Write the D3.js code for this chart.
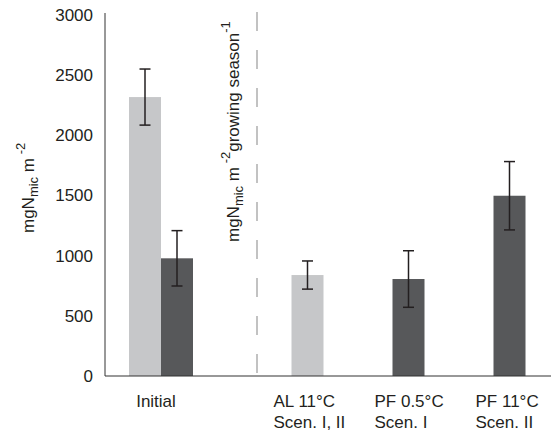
<!DOCTYPE html>
<html>
<head>
<meta charset="utf-8">
<script src="https://cdn.jsdelivr.net/npm/d3@7"></script>
<style>
  html, body { margin: 0; padding: 0; background: #fff; }
  svg { display: block; font-family: "Liberation Sans", Arial, sans-serif; }
</style>
</head>
<body>
<svg id="chart" width="551" height="431"></svg>
<script>
// Microbial N pools: initial stock and accumulation per growing season
const initialCategory = "Initial";
const scenarioCategories = ["AL11", "PF05", "PF11"];
const scenarioLabels = [["AL 11°C", "Scen. I, II"], ["PF 0.5°C", "Scen. I"], ["PF 11°C", "Scen. II"]];

// Initial stock: active layer (light) and permafrost (dark)
const initialLight = 2318, initialLightErr = 233;
const initialDark = 978, initialDarkErr = 230;

// Scenario values (one series per scenario)
const scenarioSeries = ["light", "dark", "dark"];
const scenarioValues = [839, 806, 1498];
const scenarioErrors = [117, 235, 284];

const yTicks = [0, 500, 1000, 1500, 2000, 2500, 3000];

const colors = { light: "#c6c7c9", dark: "#57585a" };
const ink = "#231f20";
const fs = 17;

const svg = d3.select("#chart");
const axisX = 105, baseY = 376, dividerX = 257;
const barW = 32;

const y = d3.scaleLinear().domain([0, 3000]).range([baseY, 15]);
const xLeft = d3.scaleBand().domain([initialCategory]).range([axisX, 217]);
const xRight = d3.scaleBand().domain(scenarioCategories).range([dividerX, 560]);

const leftCenter = xLeft(initialCategory) + xLeft.bandwidth() / 2;
const xInner = d3.scaleBand().domain(["light", "dark"]).range([leftCenter - barW, leftCenter + barW]);

// collect bars
const bars = [
  { x: xInner("light"), w: xInner.bandwidth(), v: initialLight, e: initialLightErr, s: "light" },
  { x: xInner("dark"), w: xInner.bandwidth(), v: initialDark, e: initialDarkErr, s: "dark" }
];
scenarioCategories.forEach((c, i) => {
  const cx = xRight(c) + xRight.bandwidth() / 2;
  bars.push({ x: cx - barW / 2, w: barW, v: scenarioValues[i], e: scenarioErrors[i], s: scenarioSeries[i] });
});

svg.append("g").selectAll("rect").data(bars).join("rect")
  .attr("x", d => d.x).attr("width", d => d.w)
  .attr("y", d => y(d.v)).attr("height", d => y(0) - y(d.v))
  .attr("fill", d => colors[d.s]);

// error bars
const eb = svg.append("g").attr("stroke", ink).attr("stroke-width", 1.5);
bars.forEach(d => {
  const cx = d.x + d.w / 2;
  eb.append("line").attr("x1", cx).attr("x2", cx).attr("y1", y(d.v + d.e)).attr("y2", y(d.v - d.e));
  [d.v + d.e, d.v - d.e].forEach(v => {
    eb.append("line").attr("x1", cx - 5.5).attr("x2", cx + 5.5).attr("y1", y(v)).attr("y2", y(v));
  });
});

// divider between initial stock and scenarios
svg.append("line")
  .attr("x1", dividerX).attr("x2", dividerX).attr("y1", 12).attr("y2", baseY)
  .attr("stroke", "#9a9a9a").attr("stroke-width", 1.2).attr("stroke-dasharray", "19 19");

// y axis
const yAxis = d3.axisLeft(y).tickValues(yTicks).tickSize(0).tickPadding(12).tickFormat(d3.format("d"));
const gy = svg.append("g").attr("transform", `translate(${axisX},0)`).call(yAxis);
gy.select(".domain").remove();
gy.selectAll("text").attr("font-size", fs).attr("fill", ink).attr("font-family", "Liberation Sans, Arial, sans-serif");

svg.append("line").attr("x1", axisX).attr("x2", axisX).attr("y1", 13).attr("y2", baseY)
  .attr("stroke", "#333").attr("stroke-width", 1);
svg.append("line").attr("x1", axisX).attr("x2", 551).attr("y1", baseY).attr("y2", baseY)
  .attr("stroke", "#333").attr("stroke-width", 1.2);

// category labels
svg.append("text").attr("x", leftCenter - 5).attr("y", 406.5).attr("text-anchor", "middle")
  .attr("font-size", fs).attr("fill", ink).text("Initial");
scenarioCategories.forEach((c, i) => {
  const cx = xRight(c) + xRight.bandwidth() / 2;
  const t = svg.append("text").attr("font-size", fs).attr("fill", ink);
  scenarioLabels[i].forEach((line, j) => {
    t.append("tspan").attr("x", cx - 34).attr("y", 406.5 + j * 21.5).text(line);
  });
});

// axis titles with sub/superscripts
function unitLabel(g, withSeason) {
  const t = g.append("text").attr("font-size", fs).attr("fill", ink);
  t.append("tspan").text("mgN");
  t.append("tspan").attr("font-size", 13).attr("dy", 4).text("mic");
  t.append("tspan").attr("dy", -4).text(" m");
  t.append("tspan").attr("font-size", 13).attr("dy", -9).text(" -2");
  if (withSeason) {
    t.append("tspan").attr("dy", 9).text("growing season");
    t.append("tspan").attr("font-size", 13).attr("dy", -9).text("-1");
  }
  return t;
}
unitLabel(svg.append("g").attr("transform", "translate(34,233) rotate(-90)"), false);
unitLabel(svg.append("g").attr("transform", "translate(239,242) rotate(-90)"), true);
</script>
</body>
</html>
